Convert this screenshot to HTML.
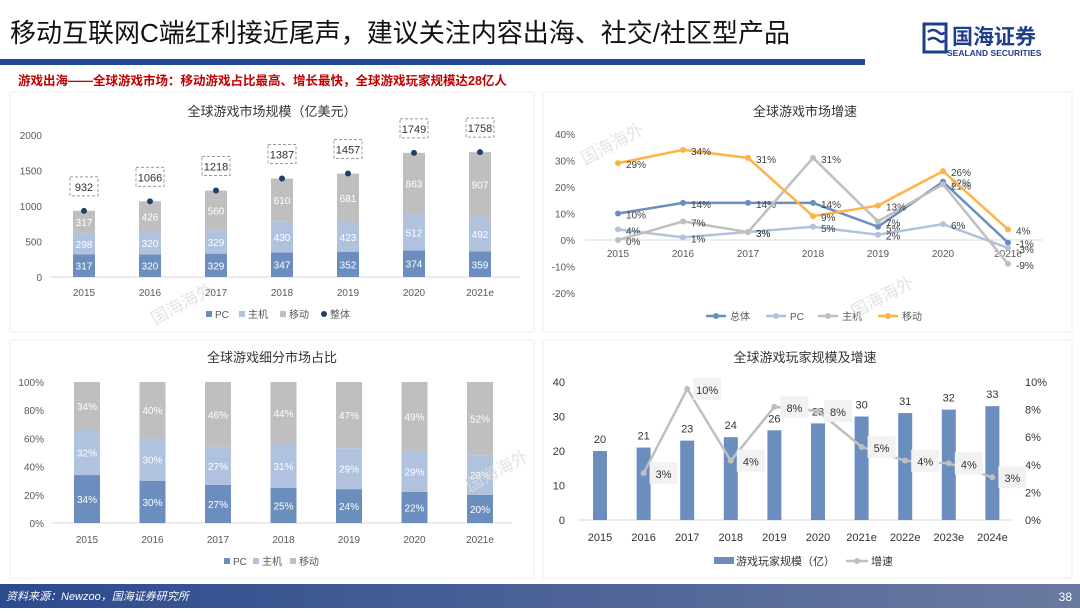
<!DOCTYPE html>
<html><head><meta charset="utf-8"><style>
body{margin:0;width:1080px;height:608px;overflow:hidden;background:#fff;font-family:"Liberation Sans","Noto Sans CJK SC",sans-serif;}
svg text{font-family:"Liberation Sans","Noto Sans CJK SC",sans-serif;}
</style></head><body>
<svg id="s" width="1080" height="608" viewBox="0 0 1080 608" xmlns="http://www.w3.org/2000/svg">
<defs><linearGradient id="fg" x1="0" x2="1"><stop offset="0" stop-color="#2c4a8e"/><stop offset="1" stop-color="#6b7aa0"/></linearGradient></defs>
<rect x="0" y="0" width="1080" height="608" fill="#fff"/>
<text x="10" y="42" font-size="26" fill="#111">移动互联网C端红利接近尾声，建议关注内容出海、社交/社区型产品</text>
<rect x="0" y="59" width="865" height="6" fill="#1f4a93"/>
<g>
<rect x="924" y="24" width="22" height="28" fill="none" stroke="#1f3e8a" stroke-width="3"/>
<path d="M928 32 q5 -4 10 0 q5 4 6 0 M928 40 q5 -4 10 0 q5 4 6 0" stroke="#1f3e8a" stroke-width="2.5" fill="none"/>
<text x="952" y="44" font-size="21" font-weight="bold" fill="#1f3e8a">国海证券</text>
<text x="947" y="56" font-size="8.5" font-weight="bold" fill="#1f3e8a">SEALAND SECURITIES</text>
</g>
<text x="18" y="85" font-size="12.5" font-weight="bold" fill="#c00000">游戏出海——全球游戏市场：移动游戏占比最高、增长最快，全球游戏玩家规模达28亿人</text>
<rect x="10" y="92" width="524" height="240" fill="#fff" stroke="#eee"/>
<rect x="543" y="92" width="529" height="240" fill="#fff" stroke="#eee"/>
<rect x="10" y="340" width="524" height="238" fill="#fff" stroke="#eee"/>
<rect x="543" y="340" width="529" height="238" fill="#fff" stroke="#eee"/>
<rect x="0" y="584" width="1080" height="24" fill="url(#fg)"/>
<text x="6" y="600" font-size="11" font-style="italic" fill="#fff">资料来源：Newzoo，国海证券研究所</text>
<text x="1072" y="601" font-size="12" fill="#fff" text-anchor="end">38</text>
<g id="c1"></g><g id="c2"></g><g id="c3"></g><g id="c4"></g>
<g fill="#ddd" font-size="17" opacity="0.8">
<text transform="translate(585,165) rotate(-28)">国海海外</text>
<text transform="translate(855,318) rotate(-28)">国海海外</text>
<text transform="translate(155,325) rotate(-28)">国海海外</text>
<text transform="translate(470,492) rotate(-28)">国海海外</text>
</g>
</svg>
<script>
const years7 = ["2015","2016","2017","2018","2019","2020","2021e"];
const sizePC = [317,320,329,347,352,374,359];
const sizeConsole = [298,320,329,430,423,512,492];
const sizeMobile = [317,426,560,610,681,863,907];
const sizeTotal = [932,1066,1218,1387,1457,1749,1758];
const sizeTicks = [0,500,1000,1500,2000];
const grTotal = [10,14,14,14,5,22,-1];
const grPC = [4,1,3,5,2,6,-3];
const grConsole = [0,7,3,31,7,21,-9];
const grMobile = [29,34,31,9,13,26,4];
const grTicks = [-20,-10,0,10,20,30,40];
const shPC = [34,30,27,25,24,22,20];
const shConsole = [32,30,27,31,29,29,28];
const shMobile = [34,40,46,44,47,49,52];
const shTicks = [0,20,40,60,80,100];
const years10 = ["2015","2016","2017","2018","2019","2020","2021e","2022e","2023e","2024e"];
const players = [20,21,23,24,26,28,30,31,32,33];
const playerGrowth = [null,3.4,9.5,4.3,8.2,7.9,5.3,4.3,4.1,3.1];
const playerTicks = [0,10,20,30,40];
const pgTicks = [0,2,4,6,8,10];

const NS="http://www.w3.org/2000/svg";
function mk(p,t,a,txt){const e=document.createElementNS(NS,t);for(const k in a)e.setAttribute(k,a[k]);if(txt!==undefined)e.textContent=txt;p.appendChild(e);return e;}
const C_PC="#6c8ebf",C_CON="#b0c2de",C_MOB="#bfbfbf",C_TOT="#1f3e6e",C_Y="#ffb347",GR="#595959";

// Chart 1
(function(){
const g=document.getElementById('c1');
const y=v=>277-v*(142/2000), x=i=>84+i*66;
mk(g,'text',{x:272,y:116,'font-size':13,'text-anchor':'middle',fill:'#333'},'全球游戏市场规模（亿美元）');
sizeTicks.forEach(t=>{const e=mk(g,'text',{x:42,y:y(t)+4,'font-size':10,'text-anchor':'end',fill:GR},t);});
mk(g,'line',{x1:50,x2:520,y1:277,y2:277,stroke:'#d9d9d9'});
years7.forEach((yr,i)=>{
 const segs=[[sizePC[i],C_PC],[sizeConsole[i],C_CON],[sizeMobile[i],C_MOB]];let base=0;
 segs.forEach(([v,c])=>{const r=mk(g,'rect',{x:x(i)-11,y:y(base+v),width:22,height:y(base)-y(base+v),fill:c});
  mk(g,'text',{x:x(i),y:(y(base)+y(base+v))/2+4,'font-size':10,'text-anchor':'middle',fill:'#fff'},v);base+=v;});
 const d=mk(g,'circle',{cx:x(i),cy:y(sizeTotal[i]),r:3,fill:C_TOT});
 const by=y(sizeTotal[i])-34;
 mk(g,'rect',{x:x(i)-14,y:by,width:28,height:19,fill:'#fff',stroke:'#999','stroke-dasharray':'3,2'});
 mk(g,'text',{x:x(i),y:by+14,'font-size':11,'text-anchor':'middle',fill:'#333'},sizeTotal[i]);
 mk(g,'text',{x:x(i),y:296,'font-size':10,'text-anchor':'middle',fill:GR},yr);
});
const lg=[['PC',C_PC,'rect'],['主机',C_CON,'rect'],['移动',C_MOB,'rect'],['整体',C_TOT,'c']];let lx=206;
lg.forEach(([n,c,t])=>{if(t==='rect')mk(g,'rect',{x:lx,y:311,width:6,height:6,fill:c});else mk(g,'circle',{cx:lx+3,cy:314,r:3,fill:c});
 const e=mk(g,'text',{x:lx+9,y:318,'font-size':10,fill:GR},n);lx+=9+n.length*(n==='PC'?7:11)+10;});
})();

// Chart 2
(function(){
const g=document.getElementById('c2');
const y=v=>240-v*2.65, x=i=>618+i*65;
mk(g,'text',{x:805,y:116,'font-size':13,'text-anchor':'middle',fill:'#333'},'全球游戏市场增速');
grTicks.forEach(t=>mk(g,'text',{x:575,y:y(t)+4,'font-size':10,'text-anchor':'end',fill:GR},t+'%'));
mk(g,'line',{x1:585,x2:1042,y1:240,y2:240,stroke:'#d9d9d9'});
years7.forEach((yr,i)=>mk(g,'text',{x:x(i),y:257,'font-size':10,'text-anchor':'middle',fill:GR},yr));
const ser=[['总体',grTotal,C_PC],['PC',grPC,C_CON],['主机',grConsole,C_MOB],['移动',grMobile,C_Y]];
ser.forEach(([n,d,c])=>{
 const p=mk(g,'polyline',{points:d.map((v,i)=>x(i)+','+y(v)).join(' '),fill:'none',stroke:c,'stroke-width':2.5});
 
 d.forEach((v,i)=>{mk(g,'circle',{cx:x(i),cy:y(v),r:3,fill:c});mk(g,'text',{x:x(i)+8,y:y(v)+5,'font-size':10,fill:'#404040'},v+'%');});
});
let lx=706;ser.forEach(([n,d,c])=>{mk(g,'line',{x1:lx,x2:lx+20,y1:316,y2:316,stroke:c,'stroke-width':2.5});mk(g,'circle',{cx:lx+10,cy:316,r:3,fill:c});
 const e=mk(g,'text',{x:lx+24,y:320,'font-size':10,fill:GR},n);lx+=24+(n==='PC'?16:24)+12;});
})();

// Chart 3
(function(){
const g=document.getElementById('c3');
const y=v=>523-v*1.41, x=i=>87+i*65.5;
mk(g,'text',{x:272,y:362,'font-size':13,'text-anchor':'middle',fill:'#333'},'全球游戏细分市场占比');
shTicks.forEach(t=>mk(g,'text',{x:44,y:y(t)+4,'font-size':10,'text-anchor':'end',fill:GR},t+'%'));
mk(g,'line',{x1:52,x2:512,y1:523,y2:523,stroke:'#d9d9d9'});
years7.forEach((yr,i)=>{
 const segs=[[shPC[i],C_PC],[shConsole[i],C_CON],[shMobile[i],C_MOB]];const tot=shPC[i]+shConsole[i]+shMobile[i];let base=0;
 segs.forEach(([v,c])=>{const vv=v*100/tot;const r=mk(g,'rect',{x:x(i)-13,y:y(base+vv),width:26,height:y(base)-y(base+vv),fill:c});
  mk(g,'text',{x:x(i),y:(y(base)+y(base+vv))/2+4,'font-size':10,'text-anchor':'middle',fill:'#fff'},v+'%');base+=vv;});
 mk(g,'text',{x:x(i),y:543,'font-size':10,'text-anchor':'middle',fill:GR},yr);
});
let lx=224;[['PC',C_PC],['主机',C_CON],['移动',C_MOB]].forEach(([n,c])=>{mk(g,'rect',{x:lx,y:558,width:6,height:6,fill:c});
 const e=mk(g,'text',{x:lx+9,y:565,'font-size':10,fill:GR},n);lx+=9+(n==='PC'?14:22)+6;});
})();

// Chart 4
(function(){
const g=document.getElementById('c4');
const y=v=>520-v*(138/40), y2=v=>520-v*13.8, x=i=>600+i*43.6;
mk(g,'text',{x:805,y:362,'font-size':13,'text-anchor':'middle',fill:'#333'},'全球游戏玩家规模及增速');
playerTicks.forEach(t=>mk(g,'text',{x:565,y:y(t)+4,'font-size':11,'text-anchor':'end',fill:'#333'},t));
pgTicks.forEach(t=>mk(g,'text',{x:1025,y:y2(t)+4,'font-size':11,fill:'#333'},t+'%'));
mk(g,'line',{x1:578,x2:1013,y1:520,y2:520,stroke:'#d9d9d9'});
years10.forEach((yr,i)=>{
 const r=mk(g,'rect',{x:x(i)-7,y:y(players[i]),width:14,height:520-y(players[i]),fill:C_PC});
 mk(g,'text',{x:x(i),y:y(players[i])-8,'font-size':11,'text-anchor':'middle',fill:'#333'},players[i]);
 mk(g,'text',{x:x(i),y:541,'font-size':11,'text-anchor':'middle',fill:'#333'},yr);
});
const pts=[];playerGrowth.forEach((v,i)=>{if(v!==null)pts.push([x(i),y2(v),v]);});
const p=mk(g,'polyline',{points:pts.map(q=>q[0]+','+q[1]).join(' '),fill:'none',stroke:C_MOB,'stroke-width':2.5});

pts.forEach(([px,py,v])=>{mk(g,'circle',{cx:px,cy:py,r:3,fill:C_MOB});
 mk(g,'rect',{x:px+6,y:py-11,width:28,height:22,fill:'#f2f2f2'});
 mk(g,'text',{x:px+20,y:py+5,'font-size':11,'text-anchor':'middle',fill:'#333'},Math.round(v)+'%');});
mk(g,'rect',{x:714,y:557,width:20,height:7,fill:C_PC});
let e=mk(g,'text',{x:736,y:565,'font-size':11,fill:'#333'},'游戏玩家规模（亿）');
mk(g,'line',{x1:846,x2:868,y1:561,y2:561,stroke:C_MOB,'stroke-width':2.5});mk(g,'circle',{cx:857,cy:561,r:3,fill:C_MOB});
e=mk(g,'text',{x:871,y:565,'font-size':11,fill:'#333'},'增速');
})();
</script>
</body></html>
